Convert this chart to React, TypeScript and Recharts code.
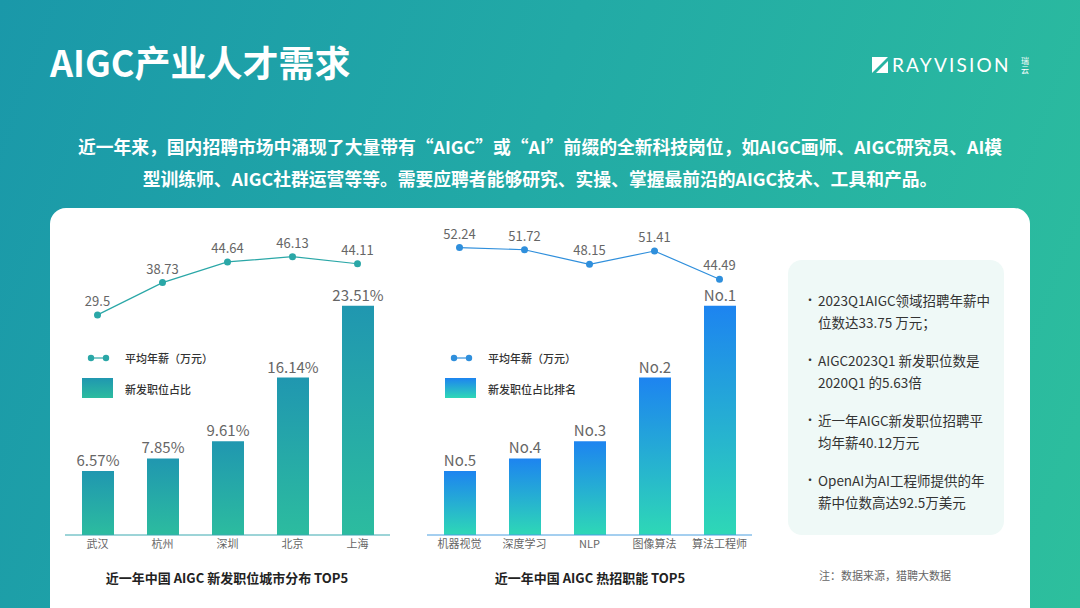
import React from 'react';
import { ComposedChart, Bar, Line, XAxis, YAxis, LabelList } from 'recharts';

// 左图：城市分布
const cities = ['武汉', '杭州', '深圳', '北京', '上海'];
const cityShare = [6.57, 7.85, 9.61, 16.14, 23.51];
const citySalary = [29.5, 38.73, 44.64, 46.13, 44.11];

// 右图：热招职能（柱高沿用原图的高度，标签为排名）
const roles = ['机器视觉', '深度学习', 'NLP', '图像算法', '算法工程师'];
const roleRank = ['No.5', 'No.4', 'No.3', 'No.2', 'No.1'];
const roleBarHeight = [6.57, 7.85, 9.61, 16.14, 23.51];
const roleSalary = [52.24, 51.72, 48.15, 51.41, 44.49];

const bullets = [
  ['2023Q1AIGC领域招聘年薪中', '位数达33.75 万元；'],
  ['AIGC2023Q1 新发职位数是', '2020Q1 的5.63倍'],
  ['近一年AIGC新发职位招聘平', '均年薪40.12万元'],
  ['OpenAI为AI工程师提供的年', '薪中位数高达92.5万美元'],
];

const cityData = cities.map((name, i) => ({ name, share: cityShare[i], salary: citySalary[i] }));
const roleData = roles.map((name, i) => ({
  name,
  share: roleBarHeight[i],
  rank: roleRank[i],
  salary: roleSalary[i],
}));

const FONT = '"Noto Sans CJK SC", "Noto Sans", sans-serif';

const LegendBox = ({ left, color, top, bottom, barLabel, id }: any) => (
  <svg
    width={160}
    height={56}
    style={{ position: 'absolute', left, top: 348, fontFamily: FONT }}
  >
    <defs>
      <linearGradient id={id} x1="0" y1="0" x2="0" y2="1">
        <stop offset="0%" stopColor={top} />
        <stop offset="100%" stopColor={bottom} />
      </linearGradient>
    </defs>
    <line x1={11} y1={10} x2={26} y2={10} stroke={color} strokeWidth={1.2} />
    <circle cx={11} cy={10} r={3.2} fill={color} />
    <circle cx={26} cy={10} r={3.2} fill={color} />
    <text x={45} y={10} dominantBaseline="central" fontSize={11} fontWeight={500} fill="#333">
      平均年薪（万元）
    </text>
    <rect x={2} y={30} width={31} height={20} fill={`url(#${id})`} />
    <text x={45} y={41} dominantBaseline="central" fontSize={11} fontWeight={500} fill="#333">
      {barLabel}
    </text>
  </svg>
);

const ComboChart = ({ data, left, margin, grad, lineColor, axisColor, lineDomain, barLabelKey, barFormatter, id }: any) => (
  <div style={{ position: 'absolute', left, top: 205 }}>
    <ComposedChart width={340} height={355} data={data} margin={margin}>
      <defs>
        <linearGradient id={id} x1="0" y1="0" x2="0" y2="1">
          <stop offset="0%" stopColor={grad[0]} />
          <stop offset="100%" stopColor={grad[1]} />
        </linearGradient>
      </defs>
      <XAxis
        dataKey="name"
        axisLine={{ stroke: axisColor, strokeWidth: 1 }}
        tickLine={false}
        tickSize={3}
        height={25}
        interval={0}
        tick={{ fill: '#666', fontSize: 11, fontFamily: FONT }}
      />
      <YAxis yAxisId="bar" hide width={0} domain={[0, 30.25]} />
      <YAxis yAxisId="line" hide width={0} domain={lineDomain} />
      <Bar yAxisId="bar" dataKey="share" barSize={32} fill={`url(#${id})`} isAnimationActive={false}>
        <LabelList
          dataKey={barLabelKey}
          position="top"
          offset={5}
          formatter={barFormatter}
          style={{ fill: '#666', fontSize: 15, fontFamily: FONT }}
        />
      </Bar>
      <Line
        yAxisId="line"
        dataKey="salary"
        type="linear"
        stroke={lineColor}
        strokeWidth={1.2}
        dot={{ r: 3.5, fill: lineColor, stroke: lineColor, strokeWidth: 0 }}
        isAnimationActive={false}
      >
        <LabelList
          dataKey="salary"
          position="top"
          offset={9}
          style={{ fill: '#666', fontSize: 13, fontFamily: FONT }}
        />
      </Line>
    </ComposedChart>
  </div>
);

export default function App() {
  return (
    <div
      style={{
        position: 'absolute',
        left: 0,
        top: 0,
        width: 1080,
        height: 608,
        overflow: 'hidden',
        fontFamily: FONT,
        background: 'linear-gradient(110deg, #1a98a9 0%, #22aaa6 45%, #2dbf9d 100%)',
      }}
    >
      <div
        style={{
          position: 'absolute',
          left: 50,
          top: 37,
          color: '#fff',
          fontSize: 36,
          fontWeight: 700,
          lineHeight: '48px',
        }}
      >
        AIGC产业人才需求
      </div>

      {/* logo */}
      <svg width={16} height={16} style={{ position: 'absolute', left: 872, top: 57 }}>
        <polygon points="0,0 16,0 0,16" fill="#fff" />
        <polygon points="16,4 16,16 4,16" fill="#fff" />
      </svg>
      <div
        style={{
          position: 'absolute',
          left: 892,
          top: 52,
          color: '#fff',
          fontSize: 19,
          letterSpacing: 2.2,
          fontFamily: 'Lato, "Noto Sans", sans-serif',
          lineHeight: '26px',
        }}
      >
        RAYVISION
      </div>
      <div
        style={{
          position: 'absolute',
          left: 1021,
          top: 56,
          color: '#fff',
          fontSize: 8,
          lineHeight: '9px',
          width: 9,
        }}
      >
        瑞<br />云
      </div>

      <div
        style={{
          position: 'absolute',
          left: 0,
          width: 1080,
          top: 130,
          color: '#fff',
          fontSize: 17.8,
          fontWeight: 700,
          lineHeight: '32px',
          textAlign: 'center',
          whiteSpace: 'nowrap',
        }}
      >
        近一年来，国内招聘市场中涌现了大量带有“AIGC”或“AI”前缀的全新科技岗位，如AIGC画师、AIGC研究员、AI模
        <br />
        型训练师、AIGC社群运营等等。需要应聘者能够研究、实操、掌握最前沿的AIGC技术、工具和产品。
      </div>

      {/* 白色卡片 */}
      <div
        style={{
          position: 'absolute',
          left: 50,
          top: 208,
          width: 980,
          height: 430,
          borderRadius: 16,
          background: '#fff',
        }}
      />

      <ComboChart
        id="gCity"
        data={cityData}
        left={56}
        margin={{ top: 35, right: 6, bottom: 0, left: 9 }}
        grad={['#2097b0', '#2cbc9f']}
        lineColor="#2aa7a7"
        axisColor="#3aa9b0"
        lineDomain={[-33.4, 50.9]}
        barLabelKey="share"
        barFormatter={(v: number) => `${v}%`}
      />
      <ComboChart
        id="gRole"
        data={roleData}
        left={420}
        margin={{ top: 35, right: 8, bottom: 0, left: 7 }}
        grad={['#1d84f0', '#2ed8b6']}
        lineColor="#2f8fdc"
        axisColor="#4a9fe0"
        lineDomain={[-18, 54.1]}
        barLabelKey="rank"
        barFormatter={(v: string) => v}
      />

      <LegendBox left={80} color="#2aa7a7" top="#2097b0" bottom="#2cbc9f" barLabel="新发职位占比" id="lgCity" />
      <LegendBox left={443} color="#2f8fdc" top="#1d84f0" bottom="#2ed8b6" barLabel="新发职位占比排名" id="lgRole" />

      <div
        style={{
          position: 'absolute',
          left: 62,
          width: 330,
          top: 568,
          textAlign: 'center',
          fontSize: 13,
          fontWeight: 700,
          color: '#222',
          lineHeight: '20px',
        }}
      >
        近一年中国 AIGC 新发职位城市分布 TOP5
      </div>
      <div
        style={{
          position: 'absolute',
          left: 425,
          width: 330,
          top: 568,
          textAlign: 'center',
          fontSize: 13,
          fontWeight: 700,
          color: '#222',
          lineHeight: '20px',
        }}
      >
        近一年中国 AIGC 热招职能 TOP5
      </div>

      {/* 右侧要点 */}
      <div
        style={{
          position: 'absolute',
          left: 788,
          top: 260,
          width: 216,
          height: 275,
          borderRadius: 14,
          background: '#eff9f7',
        }}
      />
      {bullets.map((lines, i) => (
        <div
          key={i}
          style={{
            position: 'absolute',
            left: 804,
            top: 289 + i * 60,
            fontSize: 13.5,
            lineHeight: '22px',
            color: '#333',
          }}
        >
          <span style={{ position: 'absolute', left: 0, top: 0, fontSize: 12 }}>·</span>
          <div style={{ paddingLeft: 14, whiteSpace: 'nowrap' }}>
            {lines[0]}
            <br />
            {lines[1]}
          </div>
        </div>
      ))}
      <div
        style={{
          position: 'absolute',
          left: 819,
          top: 567,
          fontSize: 11,
          color: '#666',
          lineHeight: '16px',
        }}
      >
        注：数据来源，猎聘大数据
      </div>
    </div>
  );
}
